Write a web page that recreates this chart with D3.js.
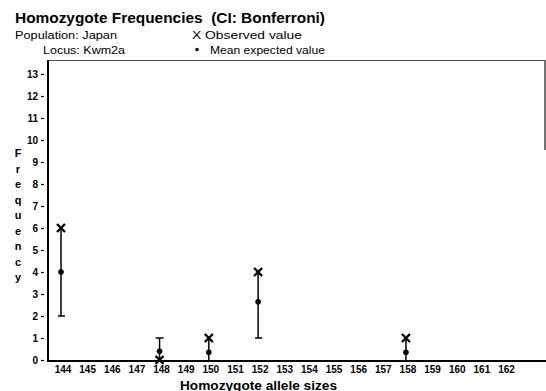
<!DOCTYPE html>
<html><head><meta charset="utf-8">
<script src="https://cdn.jsdelivr.net/npm/d3@7"></script>
<style>
body{margin:0;background:#fff;}
svg{display:block;font-family:"Liberation Sans",Arial,sans-serif;}
text{white-space:pre;}
</style></head>
<body>
<svg id="c" width="546" height="391"></svg>
<script>
const alleleTicks = [144,145,146,147,148,149,150,151,152,153,154,155,156,157,158,159,160,161,162];
const yTicks = [0,1,2,3,4,5,6,7,8,9,10,11,12,13];
const alleles = [144,148,150,152,158];
const observed = [6,0,1,4,1];
const meanExpected = [4,0.4,0.35,2.65,0.35];
const ciLower = [2,0,0,1,0];
const ciUpper = [6,1,1,4,1];

const svg = d3.select("#c");
const x = d3.scaleLinear().domain([144,162]).range([61,504.5]);
const y = d3.scaleLinear().domain([0,13]).range([360,74]);

function label(xp, yp, size, txt, len, bold){
  const t = svg.append("text").attr("x",xp).attr("y",yp).attr("font-size",size).text(txt);
  if (bold) t.attr("font-weight","bold");
  if (len) t.attr("textLength",len).attr("lengthAdjust","spacingAndGlyphs");
  return t;
}
// Title and header
label(15,23,15,"Homozygote Frequencies  (CI: Bonferroni)",310,true);
label(15,38.5,11,"Population: Japan",102);
label(43,53.5,11,"Locus: Kwm2a",82);
label(192,38.5,11,"X Observed value",110);
svg.append("circle").attr("cx",197).attr("cy",49.5).attr("r",1.8).attr("fill","#000");
label(210,53.5,11,"Mean expected value",115);

// frame
svg.append("line").attr("x1",48).attr("x2",545).attr("y1",60.5).attr("y2",60.5).attr("stroke","#555").attr("stroke-width",1);
svg.append("line").attr("x1",545).attr("x2",545).attr("y1",60).attr("y2",150).attr("stroke","#444").attr("stroke-width",1.5);
svg.append("line").attr("x1",48).attr("x2",48).attr("y1",60).attr("y2",362).attr("stroke","#000").attr("stroke-width",2);
svg.append("line").attr("x1",47).attr("x2",546).attr("y1",361).attr("y2",361).attr("stroke","#000").attr("stroke-width",2);

// Y axis
const yAxis = d3.axisLeft(y).tickValues(yTicks).tickSize(3).tickPadding(3).tickFormat(d3.format("d"));
const gy = svg.append("g").attr("transform","translate(44,0)").call(yAxis);
gy.select(".domain").remove();
gy.selectAll("text").attr("font-size",10).attr("font-weight","bold").attr("font-family","Liberation Sans, Arial, sans-serif");
gy.selectAll("line").attr("stroke-width",1.2);

// X axis
const xAxis = d3.axisBottom(x).tickValues(alleleTicks).tickSize(0).tickPadding(4).tickFormat(d3.format("d"));
const gx = svg.append("g").attr("transform","translate(1.5,362)").call(xAxis);
gx.select(".domain").remove();
gx.selectAll("text").attr("font-size",10).attr("font-weight","bold").attr("font-family","Liberation Sans, Arial, sans-serif");

// Axis titles
label(180,389.5,12,"Homozygote allele sizes",157,true);
const ylab = "Frequency".split("");
svg.append("g").selectAll("text").data(ylab).join("text")
  .attr("x",18).attr("y",(d,i)=>157+i*15.5).attr("text-anchor","middle")
  .attr("font-size",11).attr("font-weight","bold").text(d=>d);

// data marks
const data = alleles.map((a,i)=>({a, o:observed[i], m:meanExpected[i], lo:ciLower[i], hi:ciUpper[i]}));
const g = svg.append("g");
data.forEach(d=>{
  const cx = x(d.a);
  g.append("line").attr("x1",cx).attr("x2",cx).attr("y1",y(d.lo)).attr("y2",y(d.hi)).attr("stroke","#000").attr("stroke-width",1.5);
  if (d.lo>0) g.append("line").attr("x1",cx-3).attr("x2",cx+4).attr("y1",y(d.lo)).attr("y2",y(d.lo)).attr("stroke","#000").attr("stroke-width",1.5);
  if (d.hi!==d.o) g.append("line").attr("x1",cx-4).attr("x2",cx+4).attr("y1",y(d.hi)).attr("y2",y(d.hi)).attr("stroke","#000").attr("stroke-width",1.5);
  g.append("circle").attr("cx",cx).attr("cy",y(d.m)).attr("r",2.8).attr("fill","#000");
  const oy = y(d.o), s=4;
  g.append("path").attr("d",`M${cx-s},${oy-s}L${cx+s},${oy+s}M${cx+s},${oy-s}L${cx-s},${oy+s}`)
    .attr("stroke","#000").attr("stroke-width",2.4).attr("fill","none");
});
</script>
</body></html>
